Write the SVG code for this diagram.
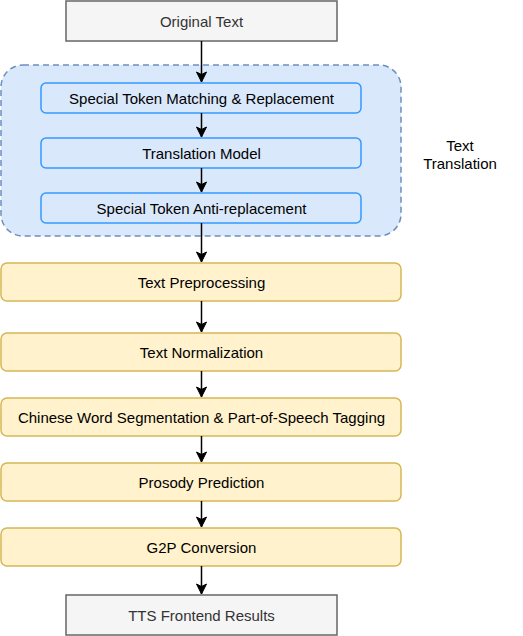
<svg xmlns="http://www.w3.org/2000/svg" width="523" height="636" viewBox="0 0 523 636">
<style>
text{font-family:"Liberation Sans",Arial,Helvetica,sans-serif;font-size:15px;text-anchor:middle;dominant-baseline:central;fill:#000}
.gray rect{fill:#f5f5f5;stroke:#666666;stroke-width:1.5}
.gray text{fill:#333333}
.blue rect{fill:#dae8fc;stroke:#3399ff;stroke-width:1.5}
.yel rect{fill:#fff2cc;stroke:#d6b656;stroke-width:1.5}
.conn line{stroke:#000;stroke-width:1.5}
</style>
<defs>
<marker id="arr" markerWidth="12" markerHeight="12" viewBox="0 0 12 12" refX="11" refY="6" orient="auto" markerUnits="userSpaceOnUse">
<path d="M1,1 L11,6 L1,11 L3.5,6 Z" fill="#000" stroke="#000" stroke-width="1"/>
</marker>
</defs>
<g id="container">
<rect x="1" y="65" width="400" height="171" rx="22" fill="#dae8fc" stroke="#6c8ebf" stroke-width="1.5" stroke-dasharray="6,4"/>
</g>
<g id="label-text-translation">
<text x="460" y="145">Text</text>
<text x="460" y="163">Translation</text>
</g>
<g id="n-original" class="gray"><rect x="66" y="1" width="271" height="40"/><text x="201.5" y="21">Original Text</text></g>
<g id="n-match" class="blue"><rect x="41" y="83" width="320" height="30" rx="5"/><text x="201.5" y="98">Special Token Matching &amp; Replacement</text></g>
<g id="n-model" class="blue"><rect x="41" y="138" width="320" height="30" rx="5"/><text x="201.5" y="153">Translation Model</text></g>
<g id="n-anti" class="blue"><rect x="41" y="193" width="320" height="30" rx="5"/><text x="201.5" y="208">Special Token Anti-replacement</text></g>
<g id="n-pre" class="yel"><rect x="1" y="263" width="400" height="38" rx="6"/><text x="201.5" y="282.5">Text Preprocessing</text></g>
<g id="n-norm" class="yel"><rect x="1" y="333" width="400" height="38" rx="6"/><text x="201.5" y="352.5">Text Normalization</text></g>
<g id="n-seg" class="yel"><rect x="1" y="398" width="400" height="38" rx="6"/><text x="201.5" y="417.5">Chinese Word Segmentation &amp; Part-of-Speech Tagging</text></g>
<g id="n-pros" class="yel"><rect x="1" y="463" width="400" height="38" rx="6"/><text x="201.5" y="482.5">Prosody Prediction</text></g>
<g id="n-g2p" class="yel"><rect x="1" y="528" width="400" height="38" rx="6"/><text x="201.5" y="547.5">G2P Conversion</text></g>
<g id="n-tts" class="gray"><rect x="66" y="595" width="271" height="40"/><text x="201.5" y="615">TTS Frontend Results</text></g>
<g id="connectors" class="conn">
<line x1="201.5" y1="41" x2="201.5" y2="82" marker-end="url(#arr)"/>
<line x1="201.5" y1="113" x2="201.5" y2="137" marker-end="url(#arr)"/>
<line x1="201.5" y1="168" x2="201.5" y2="192" marker-end="url(#arr)"/>
<line x1="201.5" y1="223" x2="201.5" y2="262" marker-end="url(#arr)"/>
<line x1="201.5" y1="301" x2="201.5" y2="332" marker-end="url(#arr)"/>
<line x1="201.5" y1="371" x2="201.5" y2="397" marker-end="url(#arr)"/>
<line x1="201.5" y1="436" x2="201.5" y2="462" marker-end="url(#arr)"/>
<line x1="201.5" y1="501" x2="201.5" y2="527" marker-end="url(#arr)"/>
<line x1="201.5" y1="566" x2="201.5" y2="594" marker-end="url(#arr)"/>
</g>
</svg>
